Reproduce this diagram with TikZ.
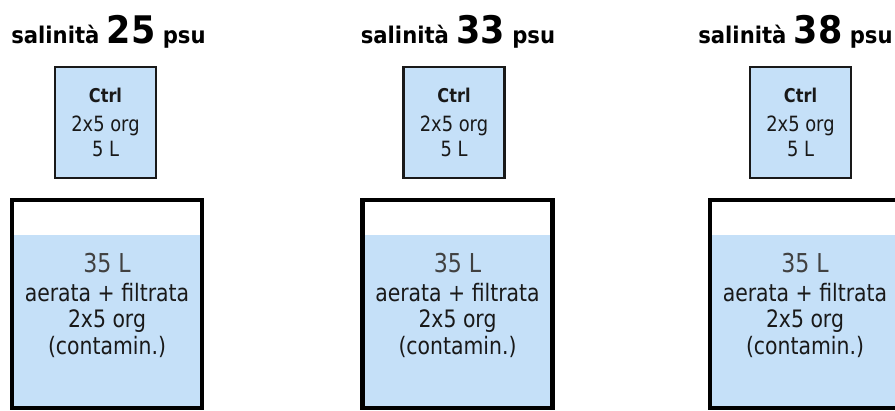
\documentclass[tikz,border=0pt]{standalone}
\usepackage{fontspec}
\setmainfont{DejaVu Sans}
\newfontfamily\tah[FakeStretch=0.85]{DejaVu Sans}
\newfontfamily\verd[FakeStretch=0.92]{DejaVu Sans}
\definecolor{water}{RGB}{197,224,248}
\definecolor{ink}{RGB}{25,25,25}
\definecolor{inkgray}{RGB}{65,65,65}
\begin{document}
\begin{tikzpicture}[x=1pt,y=-1pt,
  titletext/.style={anchor=base, inner sep=0, font=\verd\bfseries\fontsize{23}{27}\selectfont},
  ctrlbox/.style={draw=ink, line width=2.3pt, fill=water, minimum width=101pt, minimum height=111pt, inner sep=0},
  ctrltext/.style={anchor=base, inner sep=0, text=ink, font=\tah\fontsize{21}{24}\selectfont},
  tankwall/.style={draw=black, line width=4.5pt, minimum width=190pt, minimum height=208pt, inner sep=0},
  tanktext/.style={anchor=base, inner sep=0, text=ink, font=\tah\fontsize{24}{28}\selectfont},
  volume/.style={anchor=base, inner sep=0, text=inkgray, font=\tah\fontsize{26}{29}\selectfont}
]
\useasboundingbox (0,0) rectangle (895,411);
\foreach \i/\hx/\cx/\tx/\num in {1/108.5/105.5/107/25, 2/458/454/457.5/33, 3/795.5/800.5/805/38}{
  \node[titletext] (title\i) at (\hx,44) {salinità {\fontsize{38}{38}\selectfont\num} psu};
  \node[ctrlbox] (ctrl\i) at (\cx,122.5) {};
  \node[ctrltext, font=\tah\bfseries\fontsize{19}{22}\selectfont] (ctrlname\i) at (\cx,103) {Ctrl};
  \node[ctrltext] (ctrlorg\i) at (\cx,132) {2x5 org};
  \node[ctrltext] (ctrlvol\i) at (\cx,157) {5 L};
  \fill[water] ({\tx-95},235) rectangle ({\tx+95},408);
  \node[tankwall] (tank\i) at (\tx,304) {};
  \node[volume] (vol\i) at (\tx,273) {35 L};
  \node[tanktext] (air\i) at (\tx,302) {aerata + filtrata};
  \node[tanktext] (org\i) at (\tx,328) {2x5 org};
  \node[tanktext] (cont\i) at (\tx,355) {(contamin.)};
}
\end{tikzpicture}
\end{document}
